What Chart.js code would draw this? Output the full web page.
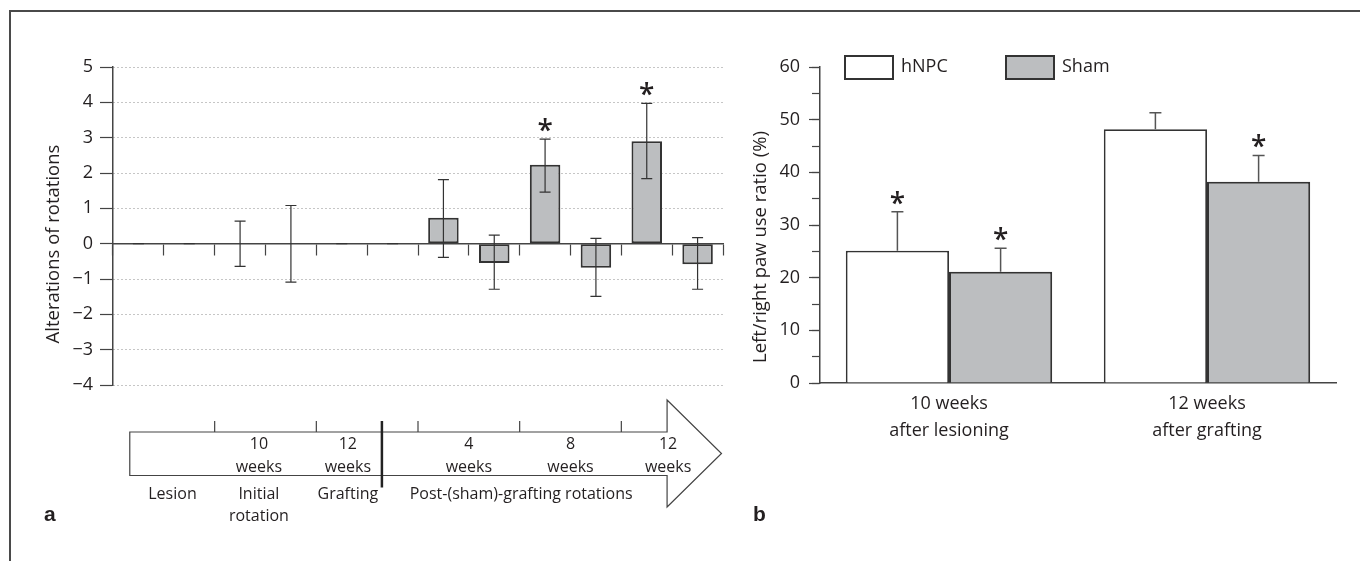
<!DOCTYPE html>
<html>
<head>
<meta charset="utf-8">
<script src="https://cdn.jsdelivr.net/npm/chart.js@4.4.1/dist/chart.umd.min.js"></script>
<style>
  body { margin: 0; background: #fff; }
  #wrap { position: relative; width: 1360px; height: 561px; overflow: hidden; background: #fff; }
  #frame { position: absolute; left: 9px; top: 10px; right: -4px; bottom: -4px; border-top: 2px solid #4a4a4a; border-left: 2px solid #4a4a4a; }
  canvas { position: absolute; top: 0; }
  #rot { left: 0; }
  #paw { left: 740px; }
</style>
</head>
<body>
<div id="wrap">
  <div id="frame"></div>
  <canvas id="rot" width="740" height="561"></canvas>
  <canvas id="paw" width="620" height="561"></canvas>
</div>
<script>
// panel a : alterations of rotations (pairs hNPC / sham per time point)
const rotLabels = ['Lesion hNPC', 'Lesion sham', '10 wk hNPC', '10 wk sham', '12 wk hNPC', '12 wk sham',
                   '4 wk hNPC', '4 wk sham', '8 wk hNPC', '8 wk sham', '12 wk post hNPC', '12 wk post sham'];
const rotValues = [0, 0, 0, 0, 0, 0, 0.73, -0.55, 2.23, -0.68, 2.9, -0.58];
const rotHigh   = [0, 0, 0.64, 1.08, 0, 0, 1.81, 0.24, 2.96, 0.15, 3.97, 0.17];
const rotLow    = [0, 0, -0.64, -1.09, 0, 0, -0.39, -1.29, 1.46, -1.49, 1.84, -1.29];
const rotStars  = [false, false, false, false, false, false, false, false, true, false, true, false];

// timeline under panel a
const stageWeeks = ['10', '12', '4', '8', '12'];
const stageNames = [['Lesion'], ['Initial', 'rotation'], ['Grafting'], ['Post-(sham)-grafting rotations']];

// panel b : paw use ratio
const pawGroups = [['10 weeks', 'after lesioning'], ['12 weeks', 'after grafting']];
const hnpcMean = [25.1, 48.2];
const hnpcSem  = [7.4, 3.1];
const shamMean = [21.1, 38.2];
const shamSem  = [4.5, 5.0];
const hnpcStars = [true, false];
const shamStars = [true, true];

const INK = '#231f20';
const LINE = '#444';
const GREY = '#bcbec0';
Chart.defaults.font.family = "'Open Sans', sans-serif";
Chart.defaults.font.size = 18;
Chart.defaults.color = INK;

// error bars + asterisks, read from dataset.errTop / errBottom / stars
const errorBars = {
  id: 'errorBars',
  afterDatasetsDraw(chart, args, o) {
    const ctx = chart.ctx;
    const y = chart.scales.y;
    chart.data.datasets.forEach((ds, i) => {
      const meta = chart.getDatasetMeta(i);
      meta.data.forEach((bar, j) => {
        const yt = y.getPixelForValue(ds.errTop[j]);
        const yb = y.getPixelForValue(ds.errBottom[j]);
        ctx.save();
        ctx.strokeStyle = o.color;
        ctx.lineWidth = o.width;
        ctx.beginPath();
        ctx.moveTo(bar.x, yt); ctx.lineTo(bar.x, yb);
        ctx.moveTo(bar.x - o.cap, yt); ctx.lineTo(bar.x + o.cap, yt);
        if (o.bothCaps) { ctx.moveTo(bar.x - o.cap, yb); ctx.lineTo(bar.x + o.cap, yb); }
        ctx.stroke();
        if (ds.stars[j]) {
          ctx.fillStyle = INK;
          ctx.font = "600 28px 'Open Sans', sans-serif";
          ctx.textAlign = 'center';
          ctx.textBaseline = 'alphabetic';
          ctx.fillText('*', bar.x, yt + 1);
        }
        ctx.restore();
      });
    });
  }
};

// panel letter and rotated y title
const panelText = {
  id: 'panelText',
  afterDraw(chart, args, o) {
    const ctx = chart.ctx;
    ctx.save();
    ctx.fillStyle = INK;
    ctx.font = "bold 21px 'Liberation Sans', Arial, sans-serif";
    ctx.textBaseline = 'alphabetic';
    ctx.fillText(o.letter, o.lx, o.ly);
    ctx.font = "18.5px 'Open Sans', sans-serif";
    ctx.textAlign = 'center';
    ctx.textBaseline = 'middle';
    ctx.translate(o.tx, o.ty);
    ctx.rotate(-Math.PI / 2);
    ctx.fillText(o.title, 0, 0);
    ctx.restore();
  }
};

// the time-line arrow below panel a
const timeline = {
  id: 'timeline',
  afterDraw(chart) {
    const ctx = chart.ctx;
    const x = chart.scales.x;
    const px = v => x.getPixelForValue(v);
    const top = 432, bot = 475.5, headTop = 400, headBot = 507;
    const left = px(-0.17), base = px(10.4), tip = px(11.47);
    ctx.save();
    ctx.strokeStyle = LINE;
    ctx.lineWidth = 1.2;
    ctx.beginPath();
    ctx.moveTo(left, top); ctx.lineTo(base, top); ctx.lineTo(base, headTop);
    ctx.lineTo(tip, (headTop + headBot) / 2); ctx.lineTo(base, headBot);
    ctx.lineTo(base, bot); ctx.lineTo(left, bot); ctx.closePath();
    [1.5, 3.5, 5.5, 7.5, 9.5].forEach(v => { ctx.moveTo(px(v), top - 11); ctx.lineTo(px(v), top); });
    ctx.stroke();
    ctx.lineWidth = 2.5;
    ctx.strokeStyle = '#222';
    ctx.beginPath();
    ctx.moveTo(px(4.79), top - 11); ctx.lineTo(px(4.79), bot + 12);
    ctx.stroke();

    ctx.fillStyle = INK;
    ctx.font = "16px 'Open Sans', sans-serif";
    ctx.textAlign = 'center';
    ctx.textBaseline = 'middle';
    [2.37, 4.12, 6.5, 8.5, 10.42].forEach((v, i) => {
      ctx.fillText(stageWeeks[i], px(v), 444);
      ctx.fillText('weeks', px(v), 467);
    });
    [0.67, 2.37, 4.12, 7.53].forEach((v, i) => {
      stageNames[i].forEach((t, k) => ctx.fillText(t, px(v), 494 + k * 22));
    });
    ctx.restore();
  }
};

new Chart(document.getElementById('rot'), {
  type: 'bar',
  data: {
    labels: rotLabels,
    datasets: [{
      data: rotValues,
      errTop: rotHigh,
      errBottom: rotLow,
      stars: rotStars,
      backgroundColor: GREY,
      borderColor: '#333',
      borderWidth: 2,
      borderSkipped: false,
      categoryPercentage: 0.6,
      barPercentage: 1
    }]
  },
  options: {
    responsive: false,
    animation: false,
    layout: { padding: { left: 0, right: 17, top: 67, bottom: 176 } },
    plugins: {
      legend: { display: false },
      tooltip: { enabled: false },
      errorBars: { color: '#333', width: 1.2, cap: 5.5, bothCaps: true },
      panelText: { letter: 'a', lx: 44, ly: 521, title: 'Alterations of rotations', tx: 54, ty: 244 }
    },
    scales: {
      x: {
        position: { y: 0 },
        offset: true,
        ticks: { display: false },
        grid: { offset: true, drawOnChartArea: false, tickLength: 11, tickColor: LINE, tickWidth: 1.2 },
        border: { color: LINE, width: 1.5 }
      },
      y: {
        min: -4,
        max: 5,
        ticks: { stepSize: 1, padding: 7, callback: v => String(v).replace('-', '\u2212') },
        grid: { color: '#8c8c8c', lineWidth: 1, tickLength: 13, tickColor: LINE, tickWidth: 1.2 },
        border: { color: LINE, width: 1.5, dash: [1, 3] },
        afterFit: s => { s.width = 113; }
      }
    }
  },
  plugins: [errorBars, timeline, panelText]
});

// legend of panel b, drawn inside the plot like the original
const pawLegend = {
  id: 'pawLegend',
  afterDraw(chart) {
    const ctx = chart.ctx;
    const a = chart.chartArea;
    ctx.save();
    chart.data.datasets.forEach((ds, i) => {
      const bx = a.left + 25 + i * 161;
      ctx.fillStyle = ds.backgroundColor;
      ctx.fillRect(bx, 56, 48, 23);
      ctx.strokeStyle = '#333';
      ctx.lineWidth = 2;
      ctx.strokeRect(bx, 56, 48, 23);
      ctx.fillStyle = INK;
      ctx.font = "18px 'Open Sans', sans-serif";
      ctx.textBaseline = 'middle';
      ctx.fillText(ds.label, bx + 56, 67);
    });
    ctx.restore();
  }
};

new Chart(document.getElementById('paw'), {
  type: 'bar',
  data: {
    labels: pawGroups,
    datasets: [
      {
        label: 'hNPC',
        data: hnpcMean,
        errTop: hnpcMean.map((m, i) => m + hnpcSem[i]),
        errBottom: hnpcMean,
        stars: hnpcStars,
        backgroundColor: '#ffffff',
        borderColor: '#333',
        borderWidth: 1.8
      },
      {
        label: 'Sham',
        data: shamMean,
        errTop: shamMean.map((m, i) => m + shamSem[i]),
        errBottom: shamMean,
        stars: shamStars,
        backgroundColor: GREY,
        borderColor: '#333',
        borderWidth: 2
      }
    ]
  },
  options: {
    responsive: false,
    animation: false,
    datasets: { bar: { categoryPercentage: 0.8, barPercentage: 1 } },
    layout: { padding: { left: 0, right: 24, top: 67, bottom: 108 } },
    plugins: {
      legend: { display: false },
      tooltip: { enabled: false },
      errorBars: { color: '#555', width: 1.5, cap: 6, bothCaps: false },
      panelText: { letter: 'b', lx: 13, ly: 521, title: 'Left/right paw use ratio (%)', tx: 21, ty: 247 }
    },
    scales: {
      x: {
        grid: { drawOnChartArea: false, drawTicks: false },
        border: { color: LINE, width: 1.5 },
        ticks: { padding: 7, font: { size: 18, lineHeight: 1.5 } },
        afterFit: s => { s.height = 70; }
      },
      y: {
        min: 0,
        max: 60,
        ticks: { stepSize: 10, padding: 9 },
        grid: { drawOnChartArea: false, tickLength: 11, tickColor: LINE, tickWidth: 1.2 },
        border: { color: LINE, width: 1.5 },
        afterFit: s => { s.width = 80; }
      },
      yMinor: {
        position: { x: -0.5 },
        min: 0,
        max: 60,
        ticks: { stepSize: 5, display: false },
        grid: { drawOnChartArea: false, tickLength: 8, tickColor: LINE, tickWidth: 1.2 },
        border: { display: false }
      }
    }
  },
  plugins: [errorBars, pawLegend, panelText]
});
</script>
</body>
</html>
